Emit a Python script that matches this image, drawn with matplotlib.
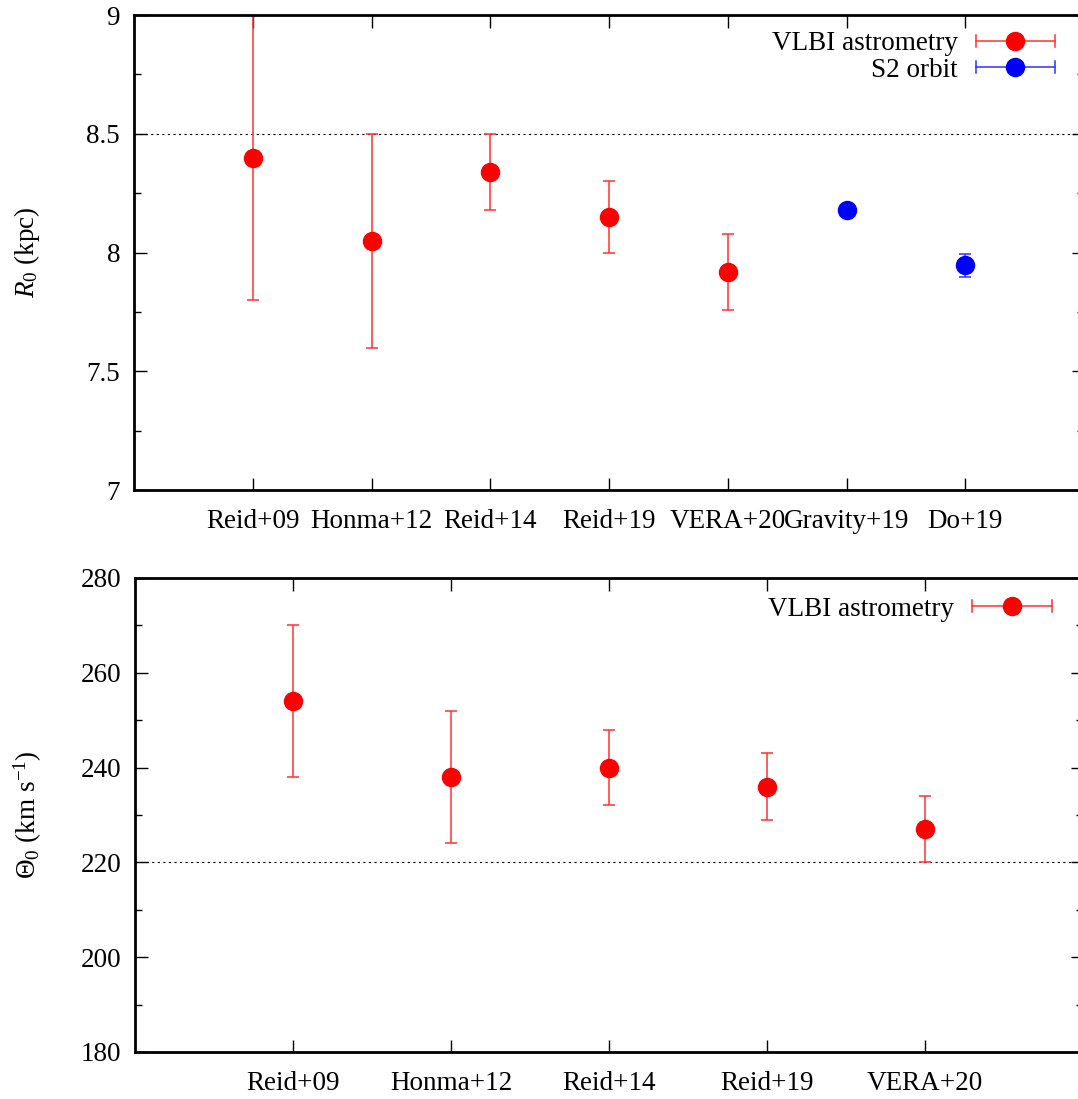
import matplotlib
matplotlib.use("Agg")
import matplotlib.pyplot as plt
from matplotlib.ticker import MultipleLocator, FixedLocator
from matplotlib.legend_handler import HandlerBase
from matplotlib.lines import Line2D

plt.rcParams['font.family'] = ['Liberation Serif', 'DejaVu Serif']
plt.rcParams['mathtext.fontset'] = 'custom'
plt.rcParams['mathtext.rm'] = 'Liberation Serif'
plt.rcParams['mathtext.it'] = 'Liberation Serif:italic'

# ---- data: R0 ----
r0_vlbi_labels = ["Reid+09", "Honma+12", "Reid+14", "Reid+19", "VERA+20"]
r0_vlbi_vals = [8.40, 8.05, 8.34, 8.15, 7.92]
r0_vlbi_err = [0.60, 0.45, 0.16, 0.15, 0.16]
r0_s2_labels = ["Gravity+19", "Do+19"]
r0_s2_vals = [8.178, 7.946]
r0_s2_err = [0.013, 0.05]

# ---- data: Theta0 ----
th_labels = ["Reid+09", "Honma+12", "Reid+14", "Reid+19", "VERA+20"]
th_vals = [254, 238, 240, 236, 227]
th_err = [16, 14, 8, 7, 7]

FS = 19.5
ms = 13
cap = 4.3


class HErrHandler(HandlerBase):
    """gnuplot-like legend sample: horizontal error bar with caps and a marker."""
    def create_artists(self, legend, orig_handle, xdescent, ydescent,
                       width, height, fontsize, trans):
        col = orig_handle.get_color()
        ecol = orig_handle.get_markeredgecolor()
        y = height / 2.0 - ydescent
        x0 = -xdescent
        x1 = width - xdescent
        c = 4.3
        arts = [
            Line2D([x0, x1], [y, y], color=ecol, lw=1.1),
            Line2D([x0, x0], [y - c, y + c], color=ecol, lw=1.1),
            Line2D([x1, x1], [y - c, y + c], color=ecol, lw=1.1),
            Line2D([(x0 + x1) / 2.0], [y], marker='o', ms=ms, color=col, ls='none'),
        ]
        for a in arts:
            a.set_transform(trans)
        return arts


fig = plt.figure(figsize=(10.78, 10.99), dpi=100)
ax1 = fig.add_axes([0.1243, 0.5541, 0.8813, 0.4322])
ax2 = fig.add_axes([0.1252, 0.0428, 0.8795, 0.4313])


def style(ax):
    for s in ax.spines.values():
        s.set_linewidth(2)
    ax.tick_params(which='both', direction='in', top=True, right=True, labelsize=FS, width=1)
    ax.tick_params(which='major', length=9)
    ax.tick_params(which='minor', length=5)
    ax.tick_params(axis='x', which='major', pad=14)
    ax.tick_params(axis='y', which='major', pad=10)


# top panel
all_labels = r0_vlbi_labels + r0_s2_labels
xv = list(range(1, len(r0_vlbi_labels) + 1))
xs = list(range(len(r0_vlbi_labels) + 1, len(all_labels) + 1))
ax1.axhline(8.5, color='black', lw=0.8, ls=(0, (2, 3)))
ax1.errorbar(xv, r0_vlbi_vals, yerr=r0_vlbi_err, fmt='o', color='red', ecolor='#ff3030',
             elinewidth=1.1, capsize=cap, capthick=1.1, ms=ms)
ax1.errorbar(xs, r0_s2_vals, yerr=r0_s2_err, fmt='o', color='blue', ecolor='#3030ff',
             elinewidth=1.1, capsize=cap, capthick=1.1, ms=ms)
ax1.set_xlim(0, len(all_labels) + 1)
ax1.set_ylim(7, 9)
ax1.xaxis.set_major_locator(FixedLocator(range(1, len(all_labels) + 1)))
ax1.set_xticklabels(all_labels)
ax1.yaxis.set_major_locator(MultipleLocator(0.5))
ax1.yaxis.set_minor_locator(MultipleLocator(0.25))
ax1.yaxis.set_major_formatter(matplotlib.ticker.FuncFormatter(lambda v, p: f"{v:g}"))
ax1.set_ylabel(r"$R_0$ (kpc)", fontsize=FS, labelpad=32)
style(ax1)
h_red = Line2D([], [], color='red', markeredgecolor='#ff3030')
h_blue = Line2D([], [], color='blue', markeredgecolor='#3030ff')
ax1.legend([h_red, h_blue], ['VLBI astrometry', 'S2 orbit'],
           handler_map={Line2D: HErrHandler()},
           loc='upper right', frameon=False, markerfirst=False, fontsize=FS,
           handlelength=2.95, handletextpad=0.65, borderaxespad=0.2, labelspacing=0.05,
           bbox_to_anchor=(0.987, 1.0))

# bottom panel
xt = list(range(1, len(th_labels) + 1))
ax2.axhline(220, color='black', lw=0.8, ls=(0, (2, 3)))
ax2.errorbar(xt, th_vals, yerr=th_err, fmt='o', color='red', ecolor='#ff3030',
             elinewidth=1.1, capsize=cap, capthick=1.1, ms=ms)
ax2.set_xlim(0, len(th_labels) + 1)
ax2.set_ylim(180, 280)
ax2.xaxis.set_major_locator(FixedLocator(xt))
ax2.set_xticklabels(th_labels)
ax2.yaxis.set_major_locator(MultipleLocator(20))
ax2.yaxis.set_minor_locator(MultipleLocator(10))
ax2.set_ylabel(r"$\Theta_0$ (km s$^{-1}$)", fontsize=FS, labelpad=26)
style(ax2)
ax2.legend([Line2D([], [], color='red', markeredgecolor='#ff3030')], ['VLBI astrometry'],
           handler_map={Line2D: HErrHandler()},
           loc='upper right', frameon=False, markerfirst=False, fontsize=FS,
           handlelength=2.95, handletextpad=0.65, borderaxespad=0.3,
           bbox_to_anchor=(0.987, 1.0))

fig.savefig("out.png", dpi=100)
